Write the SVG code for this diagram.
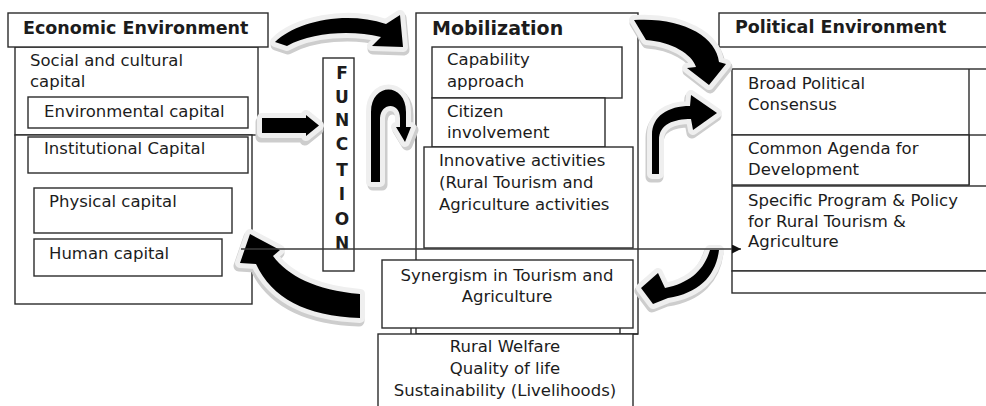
<svg xmlns="http://www.w3.org/2000/svg" width="986" height="406" viewBox="0 0 986 406">
  <style>
    .box { fill: #ffffff; stroke: #2b2b2b; stroke-width: 1.4; }
    .txt { font-family: "DejaVu Sans", Verdana, sans-serif; font-size: 16.5px; fill: #1c1c1c; }
    .ttl { font-family: "DejaVu Sans", Verdana, sans-serif; font-size: 17.5px; font-weight: bold; fill: #1c1c1c; }
    .fn { font-family: "DejaVu Sans", Verdana, sans-serif; font-size: 17px; font-weight: bold; fill: #1c1c1c; text-anchor: middle; }
    .mid { text-anchor: middle; }
    .halo-edge { fill: #cdcdcd; stroke: #cdcdcd; stroke-width: 11; stroke-linejoin: round; }
    .halo { fill: #efefef; stroke: #efefef; stroke-width: 10; stroke-linejoin: round; }
    .solid { fill: #000000; }
    .link { fill: none; stroke: #3a3a3a; stroke-width: 1.5; }
  </style>
  <defs>
    <path id="arrA" d="M 275,42 C 295,22 345,10 386,24 L 400,15 L 403,47 L 372,46 L 381,37 C 352,30 312,32 287,46 Z"/>
    <path id="arrB" d="M 262,118 L 306,118 L 306,115 L 319,125.5 L 306,136 L 306,133 L 262,133 Z"/>
    <path id="arrC" d="M 371,182 L 371,112 C 371,82 406,82 406,112 L 406,127 L 411,127 L 405,142 L 396,127 L 400,127 L 400,118 C 400,102 381,102 380,118 L 380,182 Z"/>
    <path id="arrD" d="M 634,20 C 682,17 716,36 719,62 L 726,64 L 709,85 L 687,68 L 696,67 C 692,54 672,42 646,40 Z"/>
    <path id="arrE" d="M 652,174 L 652,135 C 652,116 668,106 690,106 L 691,95 L 717,113 L 693,130 L 691,119 C 674,119 659,124 659,140 L 659,174 Z"/>
    <path id="arrF" d="M 710,250 L 719,250 C 716,275 700,293 668,298 L 653,304 L 641,288 L 658,273 L 665,288 C 690,283 704,270 710,250 Z"/>
    <path id="arrG" d="M 250,234 L 280,250 L 273,256 C 288,276 315,290 360,294 L 360,318 C 305,316 272,298 256,264 L 240,263 Z"/>
    <marker id="tip" viewBox="0 0 10 10" refX="10" refY="5" markerWidth="9" markerHeight="9" markerUnits="userSpaceOnUse" orient="auto">
      <path d="M 0,0 L 10,5 L 0,10 Z" fill="#111111"/>
    </marker>
  </defs>

  <rect width="986" height="406" fill="#ffffff"/>

  <!-- Economic environment column -->
  <g id="economic">
    <rect class="box" x="15" y="47" width="243" height="88"/>
    <rect class="box" x="15" y="135" width="237" height="169"/>
    <rect class="box" x="8" y="13" width="260" height="34"/>
    <text class="ttl" x="23" y="34">Economic Environment</text>
    <text class="txt" x="30" y="66">Social and cultural</text>
    <text class="txt" x="30" y="87">capital</text>
  </g>
  <g id="environmental-capital">
    <rect class="box" x="28" y="97" width="220" height="31"/>
    <text class="txt" x="44" y="117">Environmental capital</text>
  </g>
  <g id="institutional-capital">
    <rect class="box" x="28" y="137" width="220" height="36"/>
    <text class="txt" x="44" y="154">Institutional Capital</text>
  </g>
  <g id="physical-capital">
    <rect class="box" x="34" y="188" width="198" height="45"/>
    <text class="txt" x="49" y="207">Physical capital</text>
  </g>
  <g id="human-capital">
    <rect class="box" x="34" y="239" width="188" height="37"/>
    <text class="txt" x="49" y="259">Human capital</text>
  </g>

  <!-- Function column -->
  <g id="function">
    <rect class="box" x="323" y="58" width="31" height="213"/>
    <text class="fn" x="342" y="79">F</text>
    <text class="fn" x="342" y="103">U</text>
    <text class="fn" x="342" y="126">N</text>
    <text class="fn" x="342" y="150">C</text>
    <text class="fn" x="342" y="176">T</text>
    <text class="fn" x="342" y="200">I</text>
    <text class="fn" x="342" y="225">O</text>
    <text class="fn" x="342" y="249">N</text>
  </g>

  <!-- Mobilization column -->
  <g id="mobilization">
    <rect class="box" x="416" y="13" width="222" height="321"/>
    <text class="ttl" x="432" y="35" style="font-size:19px">Mobilization</text>
  </g>
  <g id="capability">
    <rect class="box" x="432" y="47" width="190" height="51"/>
    <text class="txt" x="447" y="65">Capability</text>
    <text class="txt" x="447" y="87">approach</text>
  </g>
  <g id="citizen">
    <rect class="box" x="432" y="98" width="173" height="49"/>
    <text class="txt" x="447" y="117">Citizen</text>
    <text class="txt" x="447" y="138">involvement</text>
  </g>
  <g id="innovative">
    <rect class="box" x="424" y="147" width="209" height="101"/>
    <text class="txt" x="439" y="166">Innovative activities</text>
    <text class="txt" x="439" y="188">(Rural Tourism and</text>
    <text class="txt" x="439" y="210">Agriculture activities</text>
  </g>
  <g id="synergism">
    <line class="box" x1="411" y1="328" x2="411" y2="334"/>
    <line class="box" x1="620" y1="328" x2="620" y2="334"/>
    <rect class="box" x="382" y="260" width="251" height="68"/>
    <text class="txt mid" x="507" y="281">Synergism in Tourism and</text>
    <text class="txt mid" x="507" y="302">Agriculture</text>
  </g>
  <g id="rural-welfare">
    <rect class="box" x="378" y="334" width="255" height="80"/>
    <line class="box" x1="633" y1="334" x2="638" y2="334"/>
    <text class="txt mid" x="505" y="352">Rural Welfare</text>
    <text class="txt mid" x="505" y="374">Quality of life</text>
    <text class="txt mid" x="505" y="396">Sustainability (Livelihoods)</text>
  </g>

  <!-- Political environment column -->
  <g id="political">
    <rect class="box" x="719" y="13" width="280" height="34"/>
    <text class="ttl" x="735" y="33">Political Environment</text>
  </g>
  <g id="broad-consensus">
    <rect class="box" x="732" y="69" width="260" height="66"/>
    <line class="box" x1="969" y1="69" x2="969" y2="185"/>
    <text class="txt" x="748" y="89">Broad Political</text>
    <text class="txt" x="748" y="110">Consensus</text>
  </g>
  <g id="common-agenda">
    <rect class="box" x="732" y="135" width="237" height="50"/>
    <text class="txt" x="748" y="154">Common Agenda for</text>
    <text class="txt" x="748" y="175">Development</text>
  </g>
  <g id="specific-program">
    <rect class="box" x="732" y="186" width="260" height="85"/>
    <rect class="box" x="732" y="271" width="260" height="22"/>
    <text class="txt" x="748" y="206">Specific Program &amp; Policy</text>
    <text class="txt" x="748" y="227">for Rural Tourism &amp;</text>
    <text class="txt" x="748" y="247">Agriculture</text>
  </g>

  <!-- Block arrows and the long link -->
  <g id="connectors">
    <g id="arrow-economic-to-mobilization">
      <use href="#arrA" class="halo-edge" transform="translate(1,3)"/>
      <use href="#arrA" class="halo"/>
      <use href="#arrA" class="solid"/>
    </g>
    <g id="arrow-into-function">
      <use href="#arrB" class="halo-edge" transform="translate(-1,4)"/>
      <use href="#arrB" class="halo"/>
      <use href="#arrB" class="solid"/>
    </g>
    <g id="arrow-function-to-mobilization">
      <use href="#arrC" class="halo-edge" transform="translate(2,3)"/>
      <use href="#arrC" class="halo"/>
      <use href="#arrC" class="solid"/>
    </g>
    <g id="arrow-mobilization-to-political">
      <use href="#arrD" class="halo-edge" transform="translate(1,3)"/>
      <use href="#arrD" class="halo"/>
      <use href="#arrD" class="solid"/>
    </g>
    <g id="arrow-up-to-consensus">
      <use href="#arrE" class="halo-edge" transform="translate(-1,3)"/>
      <use href="#arrE" class="halo"/>
      <use href="#arrE" class="solid"/>
    </g>
    <g id="arrow-political-to-synergism">
      <use href="#arrF" class="halo-edge" transform="translate(-1,3)"/>
      <use href="#arrF" class="halo"/>
      <use href="#arrF" class="solid"/>
    </g>
    <g id="arrow-synergism-to-economic">
      <use href="#arrG" class="halo-edge" transform="translate(-1,3)"/>
      <use href="#arrG" class="halo"/>
      <use href="#arrG" class="solid"/>
    </g>
    <line class="link" x1="241" y1="249" x2="741" y2="249" marker-end="url(#tip)"/>
  </g>
</svg>
